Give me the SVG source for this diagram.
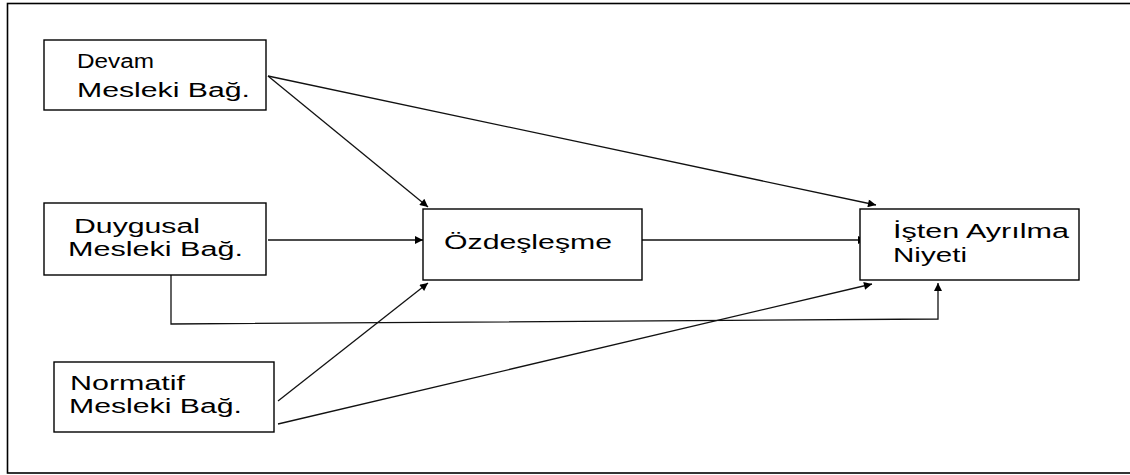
<svg xmlns="http://www.w3.org/2000/svg" width="1130" height="475" viewBox="0 0 1130 475">
<defs>
<style>
.box{fill:#fff;stroke:#000;stroke-width:1.4}
.lbl{font-family:"Liberation Sans",Arial,sans-serif;font-size:20px;fill:#000}
.con{fill:none;stroke:#111;stroke-width:1.3}
</style>
<marker id="ah" viewBox="0 0 10 10" refX="10" refY="5" markerWidth="10" markerHeight="8" markerUnits="userSpaceOnUse" orient="auto">
<path d="M0,0 L10,5 L0,10 z" fill="#000"/>
</marker>
</defs>
<rect x="0" y="0" width="1130" height="475" fill="#fff"/>
<rect x="7.5" y="3.5" width="1130" height="469.5" fill="none" stroke="#000" stroke-width="1.6"/>
<g id="connectors">
<line class="con" x1="268" y1="76" x2="428" y2="207" marker-end="url(#ah)"/>
<line class="con" x1="268" y1="76" x2="876" y2="205" marker-end="url(#ah)"/>
<line class="con" x1="268" y1="240" x2="423" y2="240" marker-end="url(#ah)"/>
<line class="con" x1="637" y1="240" x2="866" y2="240" marker-end="url(#ah)"/>
<line class="con" x1="278" y1="401" x2="428" y2="283" marker-end="url(#ah)"/>
<line class="con" x1="278" y1="424" x2="872" y2="284" marker-end="url(#ah)"/>
<polyline class="con" points="171,275 171,324 938,319 938,283" marker-end="url(#ah)"/>
</g>
<g id="devam">
<rect class="box" x="44" y="40" width="222" height="70"/>
<text class="lbl" x="77" y="68" textLength="77" lengthAdjust="spacingAndGlyphs">Devam</text>
<text class="lbl" x="77" y="97" textLength="173" lengthAdjust="spacingAndGlyphs">Mesleki Bağ.</text>
</g>
<g id="duygusal">
<rect class="box" x="44" y="203" width="222" height="72"/>
<text class="lbl" x="74" y="233" textLength="126" lengthAdjust="spacingAndGlyphs">Duygusal</text>
<text class="lbl" x="68" y="256" textLength="175" lengthAdjust="spacingAndGlyphs">Mesleki Bağ.</text>
</g>
<g id="normatif">
<rect class="box" x="54" y="362" width="220" height="70"/>
<text class="lbl" x="70" y="390" textLength="115" lengthAdjust="spacingAndGlyphs">Normatif</text>
<text class="lbl" x="69" y="413" textLength="173" lengthAdjust="spacingAndGlyphs">Mesleki Bağ.</text>
</g>
<g id="ozdeslesme">
<rect class="box" x="423" y="209" width="219" height="71"/>
<text class="lbl" x="444" y="249" textLength="168" lengthAdjust="spacingAndGlyphs">Özdeşleşme</text>
</g>
<g id="isten">
<rect class="box" x="860" y="209" width="219" height="71"/>
<text class="lbl" x="893" y="238" textLength="176" lengthAdjust="spacingAndGlyphs">İşten Ayrılma</text>
<text class="lbl" x="893" y="262" textLength="74" lengthAdjust="spacingAndGlyphs">Niyeti</text>
</g>
</svg>
